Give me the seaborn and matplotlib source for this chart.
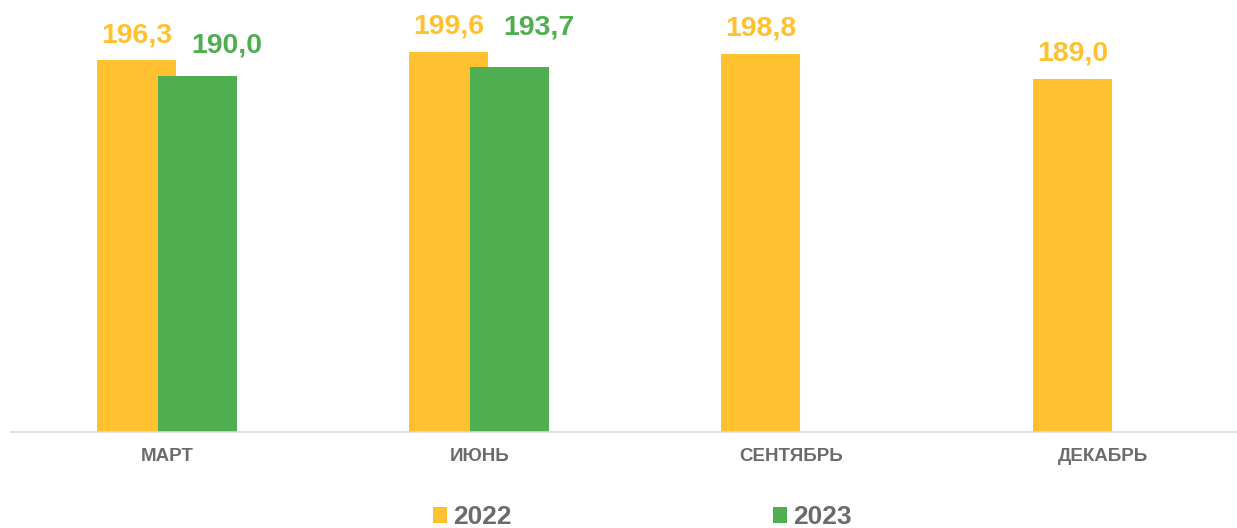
import numpy as np
import pandas as pd
import matplotlib
matplotlib.use("Agg")
import matplotlib.pyplot as plt
from matplotlib.patches import Patch
import seaborn as sns

# ---- data ----
months = ["МАРТ", "ИЮНЬ", "СЕНТЯБРЬ", "ДЕКАБРЬ"]
years = ["2022", "2023"]
values_2022 = [196.3, 199.6, 198.8, 189.0]
values_2023 = [190.0, 193.7, np.nan, np.nan]

# ---- style ----
C_2022 = "#FFC12F"
C_2023 = "#4FAE50"
GRAY = "#6B6B6B"

sns.set_theme(style="white")
plt.rcParams["font.family"] = ["Liberation Sans", "DejaVu Sans"]

df = pd.DataFrame({
    "month": months * 2,
    "year": [years[0]] * 4 + [years[1]] * 4,
    "value": values_2022 + values_2023,
})

W, H = 1237, 528
fig = plt.figure(figsize=(W / 100, H / 100), dpi=100)
ax_left = 11.3 / W
ax_right = 1259 / W
ax_bottom = 1 - 432 / H
ax = fig.add_axes([ax_left, ax_bottom, ax_right - ax_left, 432 / H])

sns.barplot(data=df, x="month", y="value", hue="year", order=months,
            hue_order=years, palette=[C_2022, C_2023], dodge=True,
            width=0.391, saturation=1, errorbar=None, legend=False, ax=ax)

# widen bars so the two series overlap as in the reference
bar_w = 0.252
for p in ax.patches:
    cx = p.get_x() + p.get_width() / 2
    p.set_width(bar_w)
    p.set_x(cx - bar_w / 2)
    p.set_edgecolor("none")

ax.set_xlim(-0.5, 3.5)
ax.set_ylim(50, 220)
ax.set_xlabel("")
ax.set_ylabel("")
ax.set_yticks([])
for s in ["top", "right", "left"]:
    ax.spines[s].set_visible(False)
ax.spines["bottom"].set_color("#D9D9D9")
ax.spines["bottom"].set_linewidth(1.2)
ax.tick_params(axis="x", length=0, pad=11.5)
for lbl in ax.get_xticklabels():
    lbl.set_fontsize(13.5)
    lbl.set_fontweight("bold")
    lbl.set_color(GRAY)

# data labels
green_dy = [23.6, 32]
gi = 0
for p in ax.patches:
    h = p.get_height()
    if not np.isfinite(h) or h == 0:
        continue
    cx = p.get_x() + p.get_width() / 2
    fc = matplotlib.colors.to_hex(p.get_facecolor())
    is_green = fc.lower() == C_2023.lower()
    if is_green:
        dx, dy = 29, green_dy[gi]
        gi += 1
        col = C_2023
    else:
        dx, dy = 0, 18
        col = C_2022
    ax.annotate(f"{h:.1f}".replace(".", ","), (cx, h), xytext=(dx, dy),
                textcoords="offset pixels", ha="center", va="baseline",
                fontsize=20.5, fontweight="bold", color=col, annotation_clip=False)

# legend
handles = [Patch(facecolor=C_2022, edgecolor="none"),
           Patch(facecolor=C_2023, edgecolor="none")]
fig.legend(handles, years, loc="center left", bbox_to_anchor=(433 / W, 1 - 517 / H),
           ncol=2, frameon=False, borderpad=0, borderaxespad=0,
           handlelength=0.54, handleheight=0.54, handletextpad=0.23,
           columnspacing=9.9, labelcolor=GRAY,
           prop={"size": 19, "weight": "bold"})

fig.savefig("out.png", dpi=100)
